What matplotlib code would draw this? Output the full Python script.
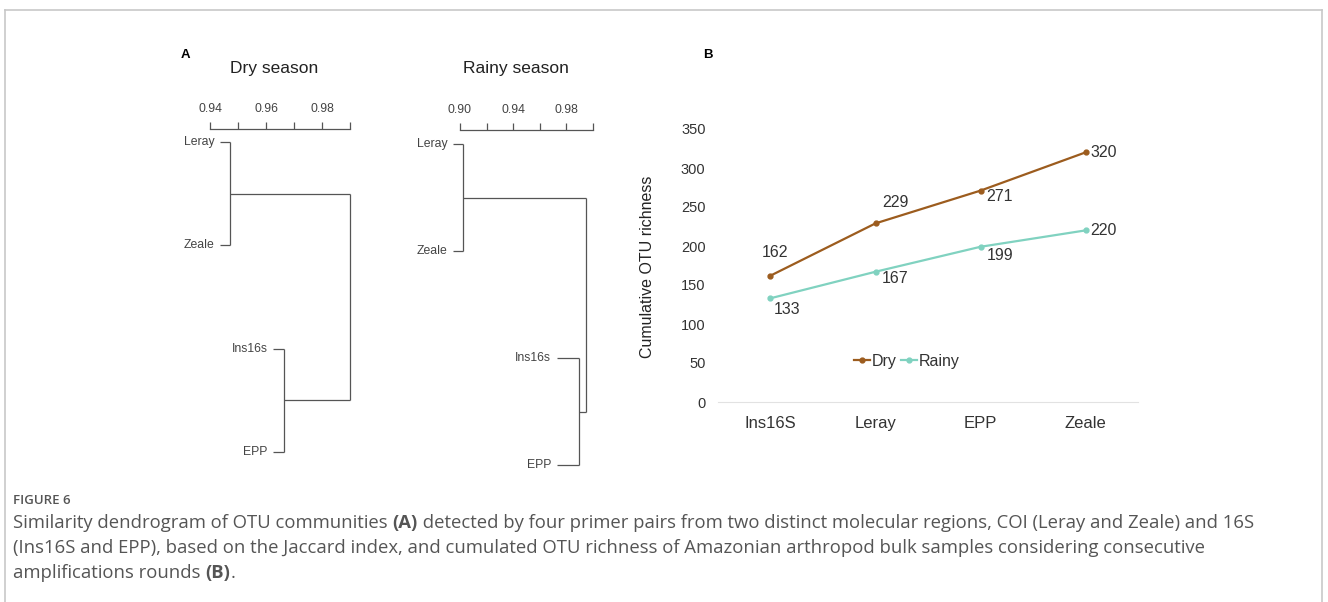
import matplotlib.pyplot as plt
from matplotlib.lines import Line2D

W, H = 1328, 602

# dendrogram data (leaf order top -> bottom)
leaves = ["Leray", "Zeale", "Ins16s", "EPP"]
dry_leaf_start = [0.9436, 0.9436, 0.9625, 0.9625]
dry_merge = [0.9471, 0.9664, 0.9900]      # Leray+Zeale, Ins16s+EPP, root
rainy_leaf_start = [0.8948, 0.8948, 0.9729, 0.9729]
rainy_merge = [0.9023, 0.9895, 0.9947]

dry_ticks = [0.94, 0.95, 0.96, 0.97, 0.98, 0.99]
dry_ticklabels = ["0.94", "", "0.96", "", "0.98", ""]
rainy_ticks = [0.90, 0.92, 0.94, 0.96, 0.98, 1.00]
rainy_ticklabels = ["0.90", "", "0.94", "", "0.98", ""]

# cumulative richness
categories = ["Ins16S", "Leray", "EPP", "Zeale"]
dry_rich = [162, 229, 271, 320]
rainy_rich = [133, 167, 199, 220]

plt.rcParams['font.family'] = ['Liberation Sans', 'DejaVu Sans']


def px(x0, y0, x1, y1):
    return [x0 / W, 1 - y1 / H, (x1 - x0) / W, (y1 - y0) / H]


fig = plt.figure(figsize=(W / 100, H / 100), dpi=100)

# outer frame
fcol = '#c8c8c8'
for xs, ys in [((4.5, 4.5), (602, 10)), ((4.5, 1322), (10, 10)), ((1322, 1322), (10, 602))]:
    fig.add_artist(Line2D([x / W for x in xs], [1 - y / H for y in ys], color=fcol, lw=1.2))


def dendro(ax, starts, merges, ticks, ticklabels):
    c = '#555555'
    kw = dict(color=c, lw=0.9, solid_capstyle='butt', clip_on=False)
    # leaf stubs
    for i, s in enumerate(starts):
        m = merges[0] if i < 2 else merges[1]
        ax.plot([s, m], [i, i], **kw)
        ax.annotate(leaves[i], (s, i), xytext=(-4, 0), textcoords='offset points',
                    ha='right', va='center', fontsize=8.8, color='#444444',
                    annotation_clip=False)
    # cluster verticals
    ax.plot([merges[0], merges[0]], [0, 1], **kw)
    ax.plot([merges[1], merges[1]], [2, 3], **kw)
    # join to root
    ax.plot([merges[0], merges[2]], [0.5, 0.5], **kw)
    ax.plot([merges[1], merges[2]], [2.5, 2.5], **kw)
    ax.plot([merges[2], merges[2]], [0.5, 2.5], **kw)

    for s in ['left', 'right', 'bottom']:
        ax.spines[s].set_visible(False)
    ax.spines['top'].set_color(c)
    ax.spines['top'].set_linewidth(0.9)
    ax.xaxis.tick_top()
    ax.set_xticks(ticks)
    ax.set_xticklabels(ticklabels)
    ax.tick_params(axis='x', direction='out', length=5, width=0.9, color=c,
                   labelsize=8.8, labelcolor='#444444', pad=5)
    ax.set_yticks([])
    ax.patch.set_alpha(0)


# Dry season dendrogram
ax1 = fig.add_axes(px(210, 129, 350, 470))
ax1.set_xlim(0.94, 0.99)
ax1.set_ylim(3.175, -0.126)
dendro(ax1, dry_leaf_start, dry_merge, dry_ticks, dry_ticklabels)

# Rainy season dendrogram
ax2 = fig.add_axes(px(460, 130, 592.7, 480))
ax2.set_xlim(0.90, 1.00)
ax2.set_ylim(3.14, -0.131)
dendro(ax2, rainy_leaf_start, rainy_merge, rainy_ticks, rainy_ticklabels)

fig.text(274 / W, 1 - 69 / H, "Dry season", fontsize=12.5, color='#222222', ha='center', va='center')
fig.text(516 / W, 1 - 69 / H, "Rainy season", fontsize=12.5, color='#222222', ha='center', va='center')
fig.text(181 / W, 1 - 55 / H, "A", fontsize=9.5, weight='bold', va='center')
fig.text(703 / W, 1 - 55 / H, "B", fontsize=9.5, weight='bold', va='center')

# Panel B: cumulative OTU richness
ax3 = fig.add_axes(px(718, 129, 1138, 402))
xpos = [i + 0.5 for i in range(len(categories))]
dry_col = '#9c5c1e'
rainy_col = '#80d2c0'
ax3.plot(xpos, dry_rich, color=dry_col, lw=1.6, marker='o', ms=3.5, label='Dry', clip_on=False)
ax3.plot(xpos, rainy_rich, color=rainy_col, lw=1.6, marker='o', ms=3.5, label='Rainy', clip_on=False)
ax3.set_xlim(0, 4)
ax3.set_ylim(0, 350)
ax3.set_yticks(range(0, 351, 50))
ax3.set_xticks(xpos)
ax3.set_xticklabels(categories)
for s in ['left', 'right', 'top']:
    ax3.spines[s].set_visible(False)
ax3.spines['bottom'].set_color('#e2e2e2')
ax3.tick_params(axis='y', length=0, labelsize=10.5, labelcolor='#333333', pad=9)
ax3.tick_params(axis='x', length=0, labelsize=12, labelcolor='#333333', pad=10)
ax3.set_ylabel("Cumulative OTU richness", fontsize=11.5, color='#222222')
ax3.yaxis.set_label_coords(-0.15, 0.494)

dry_off = [(3, 17), (14, 15), (14, -4), (13, 0)]
rainy_off = [(12, -8), (14, -5), (14, -6), (13, 0)]
for x, v, o in zip(xpos, dry_rich, dry_off):
    ax3.annotate(str(v), (x, v), xytext=o, textcoords='offset points',
                 ha='center', va='center', fontsize=11.5, color='#333333')
for x, v, o in zip(xpos, rainy_rich, rainy_off):
    ax3.annotate(str(v), (x, v), xytext=o, textcoords='offset points',
                 ha='center', va='center', fontsize=11.5, color='#333333')

ax3.legend(loc='center', bbox_to_anchor=(0.45, 0.15), ncol=2, frameon=False,
           handlelength=1.0, handletextpad=0.1, columnspacing=0.3, fontsize=11.5,
           labelcolor='#333333')

# caption
cap_font = ['Open Sans', 'DejaVu Sans']
cap_col = '#555555'
fig.text(13 / W, 1 - 501 / H, "FIGURE 6", fontsize=9.5, color=cap_col, va='center',
         family=cap_font, weight='semibold')

caption_lines = [
    [("Similarity dendrogram of OTU communities ", False), ("(A)", True),
     (" detected by four primer pairs from two distinct molecular regions, COI (Leray and Zeale) and 16S", False)],
    [("(Ins16S and EPP), based on the Jaccard index, and cumulated OTU richness of Amazonian arthropod bulk samples considering consecutive", False)],
    [("amplifications rounds ", False), ("(B)", True), (".", False)],
]
caption_y = [523, 548, 573]

r = fig.canvas.get_renderer()
for parts, yy in zip(caption_lines, caption_y):
    x = 13 / W
    for txt, bold in parts:
        t = fig.text(x, 1 - yy / H, txt, fontsize=13.3, color=cap_col, va='center',
                     family=cap_font, weight='bold' if bold else 'normal')
        x += t.get_window_extent(r).width / fig.bbox.width

fig.savefig('out.png', dpi=100)
